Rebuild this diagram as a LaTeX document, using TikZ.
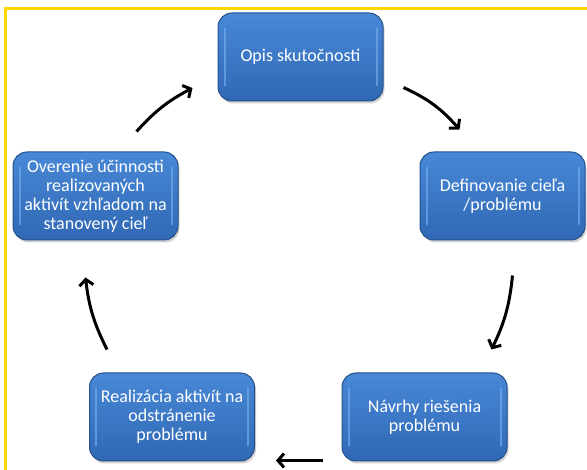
\documentclass[tikz,border=0pt]{standalone}
\usepackage{fontspec}
\setmainfont{Carlito}
\usetikzlibrary{arrows.meta,shadows}

\definecolor{frameyellow}{RGB}{255,214,0}
\definecolor{boxtop}{RGB}{72,136,214}
\definecolor{boxbottom}{RGB}{48,104,180}
\definecolor{boxedge}{RGB}{36,80,140}
\definecolor{glint}{RGB}{120,180,240}

\tikzset{
  stepbox/.style={rectangle, rounded corners=14pt, minimum width=165pt, minimum height=88pt,
    top color=boxtop, bottom color=boxbottom, draw=boxedge, line width=1pt,
    drop shadow={shadow xshift=1.5pt, shadow yshift=-2.5pt, opacity=0.35},
    text=white, align=center, font=\fontsize{18}{19}\selectfont, inner sep=2pt},
  cycarrow/.style={line width=3pt, -{Straight Barb[length=6pt,width=14pt,line width=3pt]}},
  shine/.style={glint, line width=2pt, line cap=round, opacity=0.6}
}

\begin{document}
\begin{tikzpicture}[x=1pt,y=-1pt]
	\useasboundingbox (0,0) rectangle (587,470);
	\fill[white] (0,0) rectangle (587,470);
	
	%%%%% FRAME %%%%%
	\draw[frameyellow, line width=3pt] (5,470) -- (5,9) -- (587,9);
	
	%%%%% BOXES %%%%%
	\node[stepbox] (opis) at (300.5,57) {Opis skutočnosti};
	\node[stepbox] (ciel) at (502.5,196) {Definovanie cieľa\\/problému};
	\node[stepbox] (navrh) at (424.5,417) {Návrhy riešenia\\problému};
	\node[stepbox] (real) at (172,417) {Realizácia aktivít na\\odstránenie\\problému};
	\node[stepbox] (over) at (95.5,196) {Overenie účinnosti\\realizovaných\\aktivít vzhľadom na\\stanovený cieľ};
	
	\foreach \n in {opis,ciel,navrh,real,over} {
		\draw[shine] ([shift={(7,16)}]\n.north west) -- ([shift={(7,-16)}]\n.south west);
		\draw[shine] ([shift={(-7,16)}]\n.north east) -- ([shift={(-7,-16)}]\n.south east);
	}
	
	%%%%% ARROWS %%%%%
	\coordinate (a1s) at ([shift={(20,-14)}]opis.south east);
	\coordinate (a1e) at ([shift={(40,-22)}]ciel.north west);
	\draw[cycarrow] (a1s) to[bend left=12] (a1e);
	
	\coordinate (a2s) at ([shift={(10,35)}]ciel.south);
	\coordinate (a2e) at ([shift={(67,-23)}]navrh.north);
	\draw[cycarrow] (a2s) to[bend left=10] (a2e);
	
	\coordinate (a3s) at ([shift={(-19,-1)}]navrh.south west);
	\coordinate (a3e) at ([shift={(21,-1)}]real.south east);
	\draw[cycarrow] (a3s) -- (a3e);
	
	\coordinate (a4s) at ([shift={(18,-23)}]real.north west);
	\coordinate (a4e) at ([shift={(-10,37)}]over.south);
	\draw[cycarrow] (a4s) to[bend left=10] (a4e);
	
	\coordinate (a5s) at ([shift={(41,-20)}]over.north);
	\coordinate (a5e) at ([shift={(-25,31)}]opis.west);
	\draw[cycarrow] (a5s) to[bend left=10] (a5e);
\end{tikzpicture}
\end{document}
